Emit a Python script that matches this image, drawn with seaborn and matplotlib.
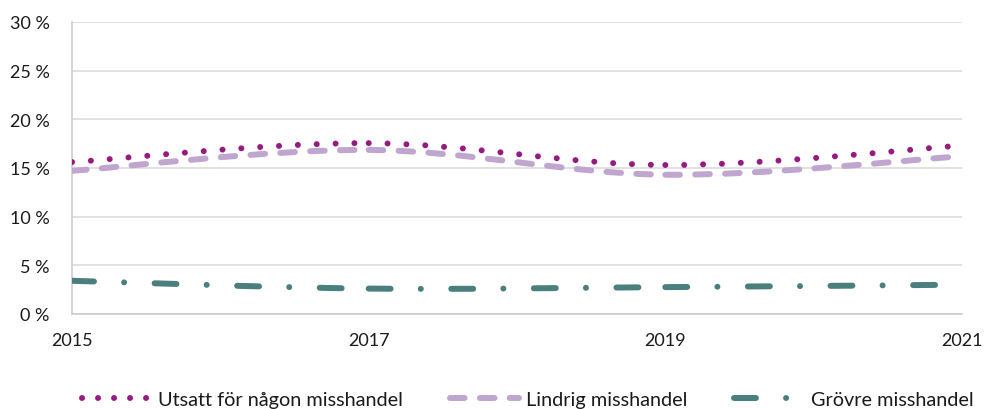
import numpy as np
import seaborn as sns
import matplotlib.pyplot as plt
from matplotlib.path import Path
from matplotlib.patches import PathPatch
from matplotlib.lines import Line2D

# Data (percent)
years = [2015, 2017, 2019, 2021]
utsatt = [15.6, 17.55, 15.3, 17.3]
lindrig = [14.7, 16.85, 14.3, 16.2]
grovre = [3.4, 2.6, 2.75, 3.0]
series_names = ['Utsatt för någon misshandel', 'Lindrig misshandel', 'Grövre misshandel']
y_ticks = [0, 5, 10, 15, 20, 25, 30]

sns.set_theme(style='white')
plt.rcParams['font.family'] = ['Lato', 'DejaVu Sans']

fig = plt.figure(figsize=(9.84, 4.10), dpi=100)
ax = fig.add_axes([0.0732, 0.232, 0.9044, 0.712])


def smooth_segments(x, y):
    # Excel-like smoothed line: one cubic bezier per data interval
    pts = np.column_stack([x, y]).astype(float)
    ext = np.vstack([pts[0], pts, pts[-1]])
    segs = []
    for i in range(len(pts) - 1):
        p0, p1, p2, p3 = ext[i], ext[i + 1], ext[i + 2], ext[i + 3]
        c1 = p1 + (p2 - p0) / 6
        c2 = p2 - (p3 - p1) / 6
        segs.append(Path([p1, c1, c2, p2], [Path.MOVETO] + [Path.CURVE4] * 3))
    return segs


styles = [
    dict(color='#951B81', lw=4.3, ls=(0, (0.01, 3.15)), leg_ls=(0, (0.01, 2.67)), restart=True),
    dict(color='#C0A6CE', lw=4.3, ls=(0, (2.45, 2.55)), leg_ls=(0, (2.45, 2.55)), restart=True),
    dict(color='#4A7F7E', lw=4.3, ls=(0, (3.67, 5.05, 0.01, 5.1)),
         leg_ls=(0, (3.67, 5.05, 0.01, 5.1)), restart=False),
]

for vals, st in zip([utsatt, lindrig, grovre], styles):
    segs = smooth_segments(years, vals)
    if not st['restart']:
        segs = [Path.make_compound_path(*segs)]
    for p in segs:
        ax.add_patch(PathPatch(p, fill=False, edgecolor=st['color'], lw=st['lw'],
                               linestyle=st['ls'], capstyle='round', joinstyle='round',
                               zorder=3))

ax.set_xlim(2015, 2021)
ax.set_ylim(0, 30)
ax.set_xticks(years)
ax.set_xticklabels([str(y) for y in years])
ax.set_yticks(y_ticks)
ax.set_yticklabels([f'{t} %' for t in y_ticks])

ax.grid(axis='y', color='#D9D9D9', lw=1.1)
ax.set_axisbelow(True)
for s in ['top', 'right']:
    ax.spines[s].set_visible(False)
ax.spines['left'].set_color('#C8C8C8')
ax.spines['bottom'].set_color('#C8C8C8')
ax.spines['left'].set_linewidth(1.1)
ax.spines['bottom'].set_linewidth(1.1)
ax.tick_params(axis='both', direction='out', length=5, width=1.1, color='#C8C8C8',
               labelsize=13, labelcolor='#1a1a1a')
ax.tick_params(axis='x', pad=8)
ax.tick_params(axis='y', pad=11)

handles = [Line2D([], [], color=st['color'], lw=st['lw'], linestyle=st['leg_ls'],
                  dash_capstyle='round', solid_capstyle='round') for st in styles]
fig.legend(handles, series_names, loc='lower center', ncol=3, frameon=False,
           bbox_to_anchor=(0.536, -0.04), handlelength=3.5, handletextpad=0.35,
           columnspacing=2.35, fontsize=14.3, labelcolor='#1a1a1a')

fig.savefig('out.png', dpi=100)
